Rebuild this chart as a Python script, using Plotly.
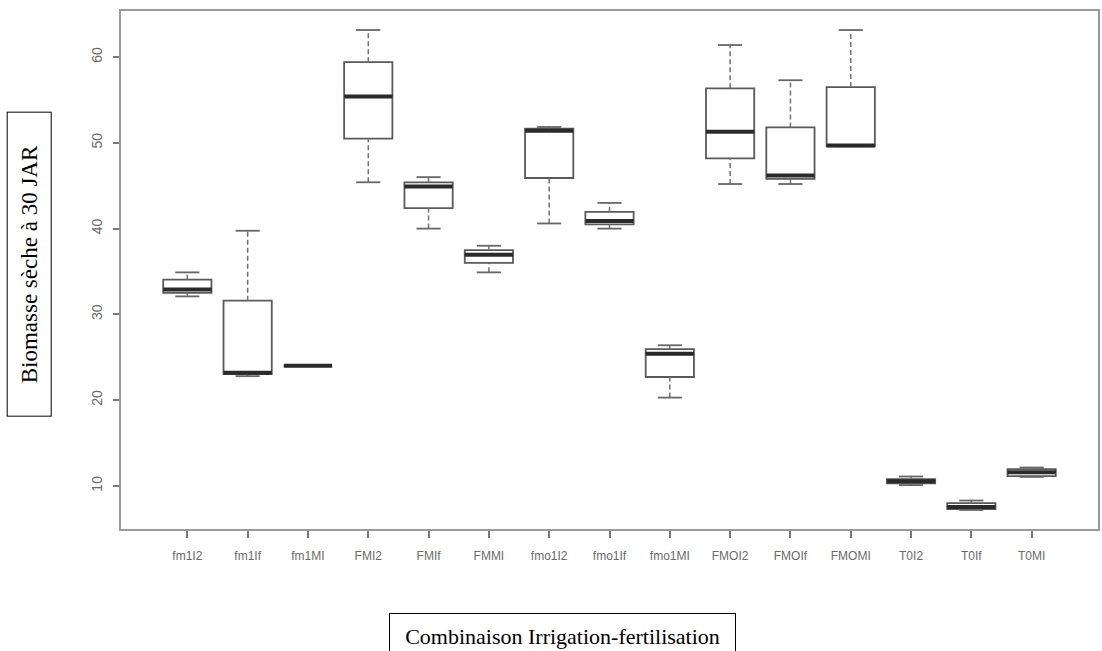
import plotly.graph_objects as go

labels = ["fm1I2", "fm1If", "fm1MI", "FMI2", "FMIf", "FMMI", "fmo1I2", "fmo1If",
          "fmo1MI", "FMOI2", "FMOIf", "FMOMI", "T0I2", "T0If", "T0MI"]
mins = [32.1, 22.8, 24.0, 45.4, 40.0, 34.9, 40.6, 40.0, 20.3, 45.2, 45.2, 49.6, 10.1, 7.2, 11.05]
q1s = [32.5, 23.05, 24.0, 50.5, 42.4, 36.0, 45.9, 40.5, 22.7, 48.2, 45.8, 49.6, 10.3, 7.3, 11.15]
meds = [32.9, 23.2, 24.0, 55.4, 44.9, 36.95, 51.4, 40.9, 25.4, 51.3, 46.2, 49.7, 10.55, 7.55, 11.6]
q3s = [34.05, 31.6, 24.0, 59.4, 45.4, 37.5, 51.65, 41.95, 25.95, 56.35, 51.8, 56.5, 10.8, 8.0, 11.95]
maxs = [34.9, 39.75, 24.0, 63.15, 46.0, 38.0, 51.85, 43.0, 26.4, 61.4, 57.3, 63.15, 11.1, 8.3, 12.15]

positions = list(range(1, len(labels) + 1))
BOXW = 0.8
CAPW = 0.4

fig = go.Figure()

# whiskers (dashed)
wx, wy = [], []
for p, lo, a, b, hi in zip(positions, mins, q1s, q3s, maxs):
    wx += [p, p, None, p, p, None]
    wy += [b, hi, None, lo, a, None]
fig.add_trace(go.Scatter(x=wx, y=wy, mode="lines", hoverinfo="skip",
                         line=dict(color="#707070", width=1.5, dash="5px,3px"),
                         showlegend=False))

# staples
cx, cy = [], []
for p, lo, hi in zip(positions, mins, maxs):
    cx += [p - CAPW / 2, p + CAPW / 2, None, p - CAPW / 2, p + CAPW / 2, None]
    cy += [hi, hi, None, lo, lo, None]
fig.add_trace(go.Scatter(x=cx, y=cy, mode="lines", hoverinfo="skip",
                         line=dict(color="#666666", width=1.8),
                         showlegend=False))

# boxes
fig.add_trace(go.Box(x=positions, q1=q1s, median=meds, q3=q3s,
                     lowerfence=q1s, upperfence=q3s,
                     width=BOXW, whiskerwidth=0,
                     fillcolor="white",
                     line=dict(color="#5a5a5a", width=1.8),
                     showlegend=False, boxpoints=False))

# thick medians
mx, my = [], []
for p, m in zip(positions, meds):
    mx += [p - BOXW / 2, p + BOXW / 2, None]
    my += [m, m, None]
fig.add_trace(go.Scatter(x=mx, y=my, mode="lines", hoverinfo="skip",
                         line=dict(color="#2a2a2a", width=4),
                         showlegend=False))

fig.update_layout(
    width=1102, height=651,
    margin=dict(l=121, r=2, t=11, b=122),
    paper_bgcolor="white", plot_bgcolor="white",
    showlegend=False,
    xaxis=dict(range=[-0.1, 16.1], tickmode="array", tickvals=positions, ticktext=labels,
               showgrid=False, zeroline=False, showline=True, mirror=True,
               linecolor="#9a9a9a", linewidth=1.5,
               ticks="outside", ticklen=7, tickcolor="#777777", tickwidth=1.5,
               ticklabelstandoff=8,
               tickfont=dict(family="Liberation Sans", size=12, color="#6a6a6a")),
    yaxis=dict(range=[4.98, 65.37], tickmode="array", tickvals=[10, 20, 30, 40, 50, 60],
               showgrid=False, zeroline=False, showline=True, mirror=True,
               linecolor="#9a9a9a", linewidth=1.5,
               ticks="outside", ticklen=6, tickcolor="#777777", tickwidth=1.5,
               tickangle=-90, ticklabelstandoff=6,
               tickfont=dict(family="Liberation Sans", size=14, color="#6a6a6a")),
)

fig.add_annotation(text="Biomasse sèche à 30 JAR", xref="paper", yref="paper",
                   x=-121 / 979 + 29.5 / 979, y=1 - (263.5 - 11) / 517,
                   xanchor="center", yanchor="middle", showarrow=False,
                   textangle=-90, width=301, height=41, borderpad=1,
                   bordercolor="black", borderwidth=1,
                   font=dict(family="Liberation Serif", size=23, color="black"))

fig.add_annotation(text="Combinaison Irrigation-fertilisation", xref="paper", yref="paper",
                   x=(563.5 - 121) / 979, y=1 - (634.5 - 11) / 517,
                   xanchor="center", yanchor="middle", showarrow=False,
                   width=343, height=42, borderpad=1,
                   bordercolor="black", borderwidth=1,
                   font=dict(family="Liberation Serif", size=22, color="black"))

fig.write_html("out.html")
